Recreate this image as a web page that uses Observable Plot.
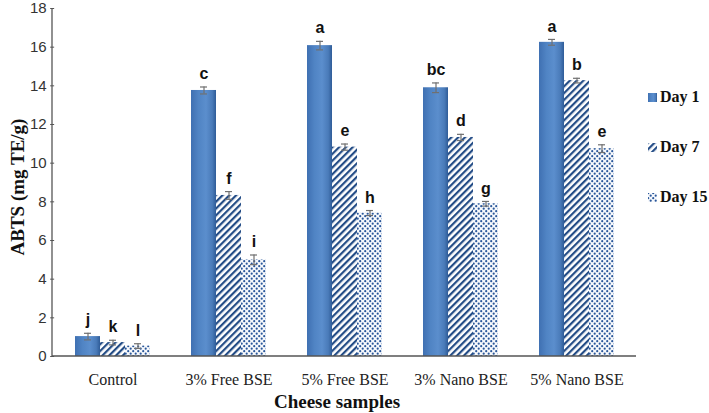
<!DOCTYPE html>
<html>
<head>
<meta charset="utf-8">
<script src="https://cdn.jsdelivr.net/npm/d3@7"></script>
<script src="https://cdn.jsdelivr.net/npm/@observablehq/plot@0.6"></script>
<style>
  body { margin: 0; background: #fff; }
  #wrap { position: relative; width: 709px; height: 413px; overflow: hidden; }
  #chart svg { display: block; }
  .ylab { position: absolute; left: 18px; top: 187px; transform: translate(-50%, -50%) rotate(-90deg);
          font: bold 19px "Liberation Serif", serif; white-space: nowrap; color: #111; }
  .xlab { position: absolute; left: 337px; top: 402px; transform: translate(-50%, -50%);
          font: bold 19px "Liberation Serif", serif; white-space: nowrap; color: #111; }
  .legend { position: absolute; left: 647px; top: 86px; font: bold 16px "Liberation Serif", serif; color: #111; }
  .legend .item { display: flex; align-items: center; height: 22px; margin-bottom: 28px; white-space: nowrap; }
  .legend svg { margin-right: 2px; }
</style>
</head>
<body>
<svg width="0" height="0" style="position:absolute">
  <defs>
    <linearGradient id="g1" x1="0" y1="0" x2="1" y2="0">
      <stop offset="0" stop-color="#3f70b2"/>
      <stop offset="0.3" stop-color="#5084c4"/>
      <stop offset="0.6" stop-color="#5b8ecd"/>
      <stop offset="0.85" stop-color="#4a7bb9"/>
      <stop offset="1" stop-color="#2f5c98"/>
    </linearGradient>
    <pattern id="hatch" patternUnits="userSpaceOnUse" width="4.8" height="4.8" patternTransform="rotate(45)">
      <rect width="4.8" height="4.8" fill="#ffffff"/>
      <rect width="2.2" height="4.8" fill="#234c86"/>
    </pattern>
    <pattern id="dots" patternUnits="userSpaceOnUse" width="5" height="5">
      <rect width="5" height="5" fill="#f7f9fc"/>
      <circle cx="1.2" cy="1.2" r="1.1" fill="#2a579a"/>
      <circle cx="3.7" cy="3.7" r="1.1" fill="#2a579a"/>
    </pattern>
  </defs>
</svg>
<div id="wrap">
  <div id="chart"></div>
  <div class="ylab">ABTS (mg TE/g)</div>
  <div class="xlab">Cheese samples</div>
  <div class="legend">
    <div class="item"><svg width="11" height="11"><rect x="1" y="1" width="9" height="9" fill="url(#g1)"/></svg>Day 1</div>
    <div class="item"><svg width="11" height="11"><rect x="1" y="1" width="9" height="9" fill="url(#hatch)"/></svg>Day 7</div>
    <div class="item"><svg width="11" height="11"><rect x="1" y="1" width="9" height="9" fill="url(#dots)"/></svg>Day 15</div>
  </div>
</div>
<script>
const categories = ["Control", "3% Free BSE", "5% Free BSE", "3% Nano BSE", "5% Nano BSE"];
const days = ["Day 1", "Day 7", "Day 15"];
const day1 = [1.03, 13.76, 16.08, 13.9, 16.25];
const day7 = [0.72, 8.33, 10.83, 11.33, 14.27];
const day15 = [0.54, 5.0, 7.42, 7.9, 10.75];
const err1 = [0.17, 0.18, 0.22, 0.25, 0.15];
const err7 = [0.12, 0.2, 0.16, 0.16, 0.12];
const err15 = [0.12, 0.25, 0.13, 0.12, 0.2];
const letters1 = ["j", "c", "a", "bc", "a"];
const letters7 = ["k", "f", "e", "d", "b"];
const letters15 = ["l", "i", "h", "g", "e"];
const yTicks = [0, 2, 4, 6, 8, 10, 12, 14, 16, 18];

const series = [
  {day: "Day 1", values: day1, errs: err1, letters: letters1, fill: "url(#g1)"},
  {day: "Day 7", values: day7, errs: err7, letters: letters7, fill: "url(#hatch)"},
  {day: "Day 15", values: day15, errs: err15, letters: letters15, fill: "url(#dots)"}
];
const data = categories.flatMap((c, i) => series.map(s => ({
  cat: c, day: s.day, v: s.values[i], e: s.errs[i], letter: s.letters[i]
})));

const W = 709, H = 413;
const M = {left: 52, right: 73, top: 8, bottom: 57};
const padIn = 0.34, padOut = 0.17;
// the y axis sits at the frame's left edge, not at the first facet's edge
const outer = (W - M.left - M.right) / (categories.length - padIn + 2 * padOut) * padOut;

const chart = Plot.plot({
  width: W, height: H,
  marginLeft: M.left, marginRight: M.right, marginTop: M.top, marginBottom: M.bottom,
  style: {background: "transparent", overflow: "visible"},
  fx: {domain: categories, paddingInner: padIn, paddingOuter: padOut, label: null},
  x: {domain: days, padding: 0, axis: null},
  y: {domain: [0, 18], label: null},
  marks: [
    ...series.map(s => Plot.barY(data.filter(d => d.day === s.day), {fx: "cat", x: "day", y: "v", fill: s.fill})),
    Plot.ruleX(data, {fx: "cat", x: "day", y1: d => d.v - d.e, y2: d => d.v + d.e, stroke: "#707070", strokeWidth: 1.2}),
    Plot.tickY(data, {fx: "cat", x: "day", y: d => d.v + d.e, stroke: "#707070", strokeWidth: 1.2, insetLeft: 9, insetRight: 9}),
    Plot.tickY(data, {fx: "cat", x: "day", y: d => d.v - d.e, stroke: "#707070", strokeWidth: 1.2, insetLeft: 9, insetRight: 9}),
    Plot.text(data, {fx: "cat", x: "day", y: d => d.v + d.e, text: "letter", dy: -13,
      fontWeight: "bold", fontSize: 16, fontFamily: "Liberation Sans, sans-serif", fill: "#111"}),
    Plot.axisY({ticks: yTicks, tickSize: 4, tickPadding: 4, label: null, stroke: "#555", dx: -outer,
      fontSize: 15, fontFamily: "Liberation Sans, sans-serif", color: "#333"}),
    Plot.axisFx({anchor: "bottom", tickSize: 0, tickPadding: 17, label: null,
      fontSize: 16, fontFamily: "Liberation Serif, serif", color: "#222"})
  ]
});
document.getElementById("chart").appendChild(chart);

// axis lines, positioned from the plot's own scales
const y = chart.scale("y");
const ns = "http://www.w3.org/2000/svg";
const y0 = y.apply(0), yTop = y.apply(18);
function line(x1, y1, x2, y2) {
  const l = document.createElementNS(ns, "line");
  l.setAttribute("x1", x1); l.setAttribute("y1", y1);
  l.setAttribute("x2", x2); l.setAttribute("y2", y2);
  l.setAttribute("stroke", "#555"); l.setAttribute("stroke-width", "1.3");
  chart.appendChild(l);
}
line(M.left, y0, W - M.right, y0);
line(M.left, y0, M.left, yTop);
</script>
</body>
</html>
